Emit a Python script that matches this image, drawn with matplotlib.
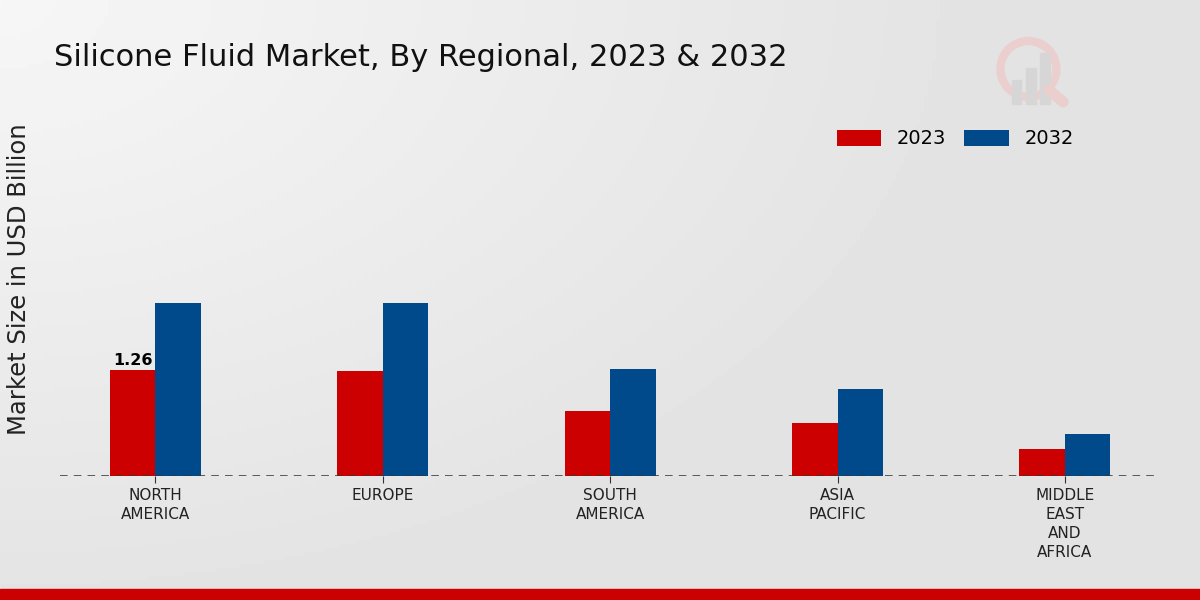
import numpy as np
import matplotlib.pyplot as plt
from matplotlib.patches import Rectangle, Ellipse

regions = ["NORTH\nAMERICA", "EUROPE", "SOUTH\nAMERICA", "ASIA\nPACIFIC", "MIDDLE\nEAST\nAND\nAFRICA"]
val_2023 = [1.26, 1.25, 0.77, 0.63, 0.32]
val_2032 = [2.06, 2.06, 1.27, 1.03, 0.50]

plt.rcParams['font.family'] = ['DejaVu Sans']

fig = plt.figure(figsize=(12, 6), dpi=100)

# gradient background, light at top-left
bg = fig.add_axes([0, 0, 1, 1], zorder=-10)
gx, gy = np.meshgrid(np.linspace(0, 1, 300), np.linspace(0, 1, 150))
grad = 0.965 - 0.075 * np.clip(1.2 * np.hypot(gx, gy * 0.8), 0, 1)
bg.imshow(grad, cmap='gray', vmin=0, vmax=1, aspect='auto', extent=[0, 1, 0, 1], origin='upper')
bg.add_patch(Rectangle((0, 0), 1, 0.018, color='#cc0000', transform=bg.transAxes))
# faint logo
bg.add_patch(Ellipse((0.857, 0.885), 56 / 1200, 56 / 600, fill=False, lw=6, ec='#ebcfcf',
                     transform=bg.transAxes))
bg.plot([0.874, 0.886], [0.85, 0.83], color='#ebcfcf', lw=8, solid_capstyle='round',
        transform=bg.transAxes)
for x0, h in [(0.843, 0.04), (0.855, 0.06), (0.867, 0.085)]:
    bg.add_patch(Rectangle((x0, 0.826), 0.008, h, color='#d6d6d6', transform=bg.transAxes))
bg.set_xlim(0, 1)
bg.set_ylim(0, 1)
bg.axis('off')

ax = fig.add_axes([0.05, 0.2067, 0.917, 0.627])
ax.patch.set_alpha(0)
x = np.arange(len(regions))
w = 0.2
ax.bar(x - w / 2, val_2023, w, color='#cc0000', label='2023')
ax.bar(x + w / 2, val_2032, w, color='#004a8c', label='2032')
ax.text(x[0] - w / 2, val_2023[0] + 0.02, f"{val_2023[0]:.2f}", ha='center', va='bottom',
        fontsize=11.5, fontweight='bold')

ax.set_xlim(-0.42, 4.42)
ax.set_ylim(0, 4.47)
ax.axhline(0, color='#333333', lw=1.1, ls=(0, (5, 4)), zorder=4)
for s in ax.spines.values():
    s.set_visible(False)
ax.set_yticks([])
ax.set_xticks(x)
ax.set_xticklabels(regions, fontsize=11, color='#222222', linespacing=1.35)
ax.tick_params(axis='x', length=5, color='#333333')

fig.text(0.016, 0.535, "Market Size in USD Billion", rotation=90, ha='center', va='center',
         fontsize=17.5, color='#222222')
fig.text(0.045, 0.905, "Silicone Fluid Market, By Regional, 2023 & 2032", fontsize=22,
         color='#111111', va='center', ha='left')

ax.legend(loc='center left', bbox_to_anchor=(0.69, 0.896), ncol=2, frameon=False,
          fontsize=14, handlelength=2.3, handleheight=0.9, columnspacing=0.9)

fig.savefig("out.png", dpi=100)
